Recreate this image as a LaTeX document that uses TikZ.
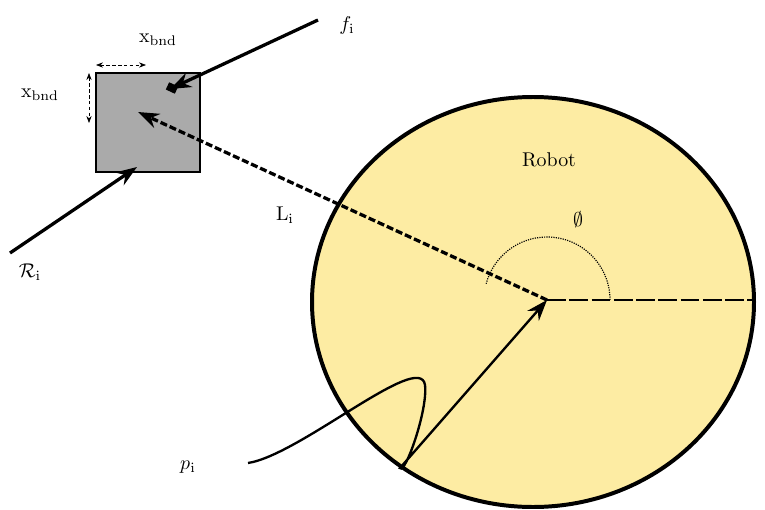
\documentclass[tikz,border=0pt]{standalone}
\usepackage{tikz}
\usetikzlibrary{arrows.meta}
\definecolor{robotfill}{RGB}{253,236,163}
\definecolor{boxgray}{RGB}{170,170,170}
\tikzset{
  lbl/.style={scale=1.7, transform shape, inner sep=0pt},
  bigarrow/.style={line width=2.8pt, -{Stealth[length=18pt,width=13pt,inset=6pt]}},
  bnd/.style={densely dashed, line width=0.6pt, {Stealth[length=6pt]}-{Stealth[length=6pt]}}
}
\begin{document}
\begin{tikzpicture}[x=0.03cm,y=-0.03cm]
  \useasboundingbox (0,0) rectangle (765,509);
  % robot body
  \draw[fill=robotfill, line width=3.4pt] (533,302) ellipse [x radius=221, y radius=205];
  \coordinate (c) at (547,300);
  \draw[dash pattern=on 16pt off 3pt, line width=1.2pt] (c) -- (755,300);
  \draw[densely dotted, line width=1pt] (610,300) arc[start angle=0, end angle=-165, radius=63];
  \node[lbl] (phi) at (578,220) {$\emptyset$};
  \node[lbl] (robot) at (549,160) {Robot};
  % the box
  \draw[fill=boxgray, line width=1.6pt] (96,73) rectangle (200,172);
  \coordinate (boxc) at (138,112);
  \draw[bigarrow, dash pattern=on 6pt off 2.5pt] (c) -- (boxc);
  \node[lbl] (L) at (285,215) {$\mathrm{L}_\mathrm{i}$};
  % force
  \node[lbl] (f) at (347,26) {$f_\mathrm{i}$};
  \coordinate (ftail) at (318,20);
  \coordinate (fhead) at (170,89);
  \draw[bigarrow] (ftail) -- (fhead);
  \fill[rotate around={-25:(172,88)}] (167,84) rectangle (177,92);
  % R
  \node[lbl] (R) at (30,272) {$\mathcal{R}_\mathrm{i}$};
  \coordinate (rtail) at (10,253);
  \coordinate (rhead) at (137,167);
  \draw[bigarrow] (rtail) -- (rhead);
  % bounds
  \node[lbl] (xtop) at (158,40) {$\mathrm{x}_\mathrm{bnd}$};
  \node[lbl] (xleft) at (40,95) {$\mathrm{x}_\mathrm{bnd}$};
  \coordinate (ta) at (96,65);
  \coordinate (tb) at (146,65);
  \coordinate (la) at (89,73);
  \coordinate (lb) at (89,123);
  \draw[bnd] (ta) -- (tb);
  \draw[bnd] (la) -- (lb);
  % p_i
  \node[lbl] (p) at (188,467) {$p_\mathrm{i}$};
  \coordinate (ps) at (248,463);
  \draw[line width=2pt, -{Stealth[length=18pt,width=13pt,inset=6pt]}] (ps) .. controls (300,455) and (420,350) .. (425,385)
    .. controls (428,410) and (405,475) .. (400,468) -- (c);
\end{tikzpicture}
\end{document}
